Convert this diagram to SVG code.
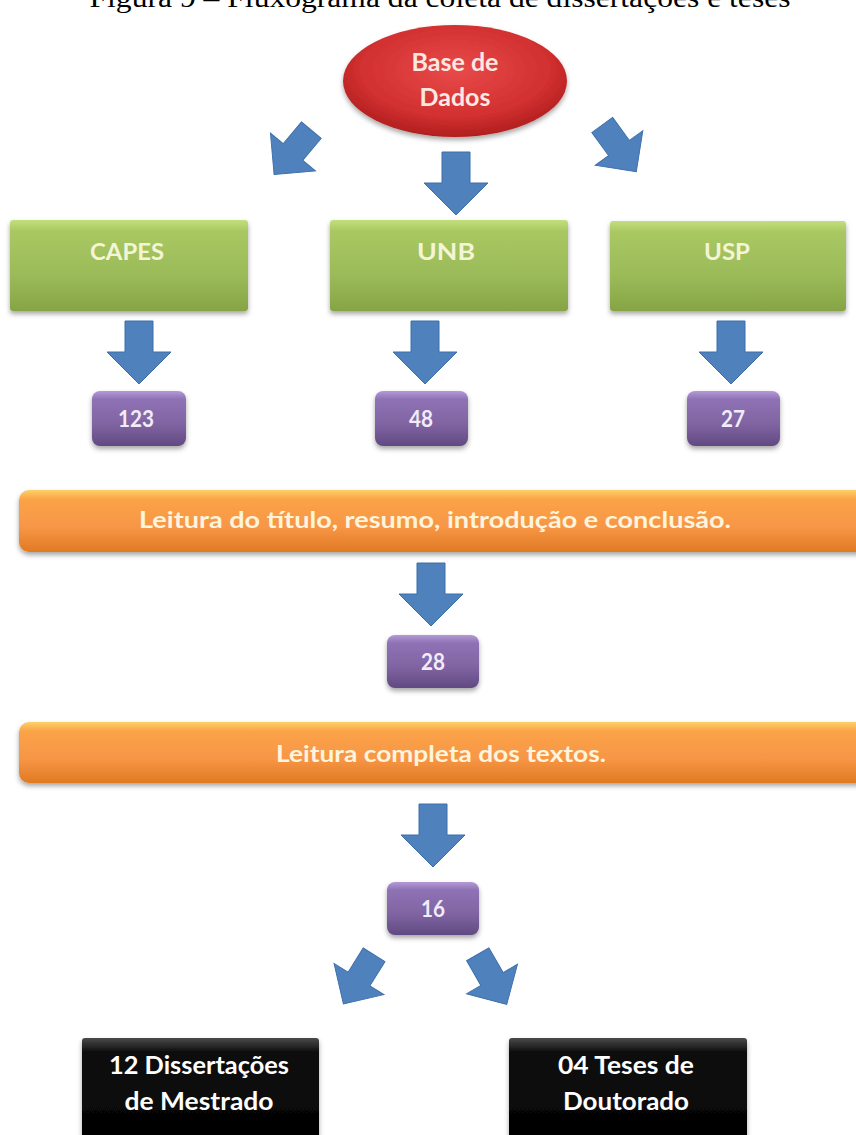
<svg xmlns="http://www.w3.org/2000/svg" xmlns:xlink="http://www.w3.org/1999/xlink" width="856" height="1135" viewBox="0 0 856 1135">
<style>
.t{font-family:Lato,"Open Sans","Liberation Sans",sans-serif;font-weight:bold;text-anchor:middle}
.title{font-family:"Liberation Serif","Times New Roman",serif;font-size:27px;fill:#000;text-anchor:middle}
.arr{fill:#4f81bd;stroke:#3d6ea8;stroke-width:1}
.gt{fill:#f3f5d6;font-size:23px}
.pt{fill:#f1ecf9;font-size:22px}
.ot{fill:#fff4dc;font-size:22px}
.bt{fill:#ffffff;font-size:24px}
.et{fill:#fde9e2;font-size:25px}
</style>
<defs>
<linearGradient id="gGreen" x1="0" y1="0" x2="0" y2="1">
<stop offset="0" stop-color="#c4df7e"/><stop offset="0.12" stop-color="#a9c862"/><stop offset="0.6" stop-color="#9bbb59"/><stop offset="1" stop-color="#86a444"/>
</linearGradient>
<linearGradient id="gPurple" x1="0" y1="0" x2="0" y2="1">
<stop offset="0" stop-color="#b39ad6"/><stop offset="0.15" stop-color="#8f72b5"/><stop offset="0.6" stop-color="#8064a2"/><stop offset="1" stop-color="#614a82"/>
</linearGradient>
<linearGradient id="gOrange" x1="0" y1="0" x2="0" y2="1">
<stop offset="0" stop-color="#fdd06a"/><stop offset="0.15" stop-color="#fba347"/><stop offset="0.6" stop-color="#f79646"/><stop offset="1" stop-color="#e07a22"/>
</linearGradient>
<linearGradient id="gBlack" x1="0" y1="0" x2="0" y2="1">
<stop offset="0" stop-color="#4a4a4a"/><stop offset="0.12" stop-color="#111"/><stop offset="1" stop-color="#000"/>
</linearGradient>
<radialGradient id="gRed" cx="0.5" cy="0.4" r="0.6">
<stop offset="0" stop-color="#e84a4a"/><stop offset="0.7" stop-color="#d23030"/><stop offset="1" stop-color="#b01e1e"/>
</radialGradient>
<filter id="sh" x="-10%" y="-10%" width="120%" height="140%">
<feDropShadow dx="0" dy="3" stdDeviation="2.5" flood-color="#000" flood-opacity="0.35"/>
</filter>
<path id="dn" class="arr" d="M -14,-31 H 14 V 0 H 32 L 0,32 L -32,0 H -14 Z"/>
</defs>
<rect width="856" height="1135" fill="#ffffff"/>
<text class="title" x="440" y="7" textLength="701" lengthAdjust="spacingAndGlyphs">Figura 9 – Fluxograma da coleta de dissertações e teses</text>

<g id="connectors">
<use xlink:href="#dn" transform="translate(293,152) rotate(40) scale(0.92)"/>
<use xlink:href="#dn" transform="translate(456,183)"/>
<use xlink:href="#dn" transform="translate(619,148) rotate(-36) scale(0.92)"/>
<use xlink:href="#dn" transform="translate(139,352)"/>
<use xlink:href="#dn" transform="translate(425,352)"/>
<use xlink:href="#dn" transform="translate(731,352)"/>
<use xlink:href="#dn" transform="translate(431,594)"/>
<use xlink:href="#dn" transform="translate(433,835)"/>
<use xlink:href="#dn" transform="translate(359,979) rotate(32) scale(0.92)"/>
<use xlink:href="#dn" transform="translate(492,979) rotate(-30) scale(0.92)"/>
</g>

<g id="base">
<ellipse cx="455" cy="81" rx="112" ry="56" fill="url(#gRed)" filter="url(#sh)"/>
<text class="t et" x="455" y="71">Base de</text>
<text class="t et" x="455" y="106">Dados</text>
</g>

<g id="capes">
<rect x="10" y="220" width="238" height="91" rx="3" fill="url(#gGreen)" filter="url(#sh)"/>
<text class="t gt" x="127" y="260" textLength="74" lengthAdjust="spacingAndGlyphs">CAPES</text>
</g>
<g id="unb">
<rect x="330" y="220" width="238" height="91" rx="3" fill="url(#gGreen)" filter="url(#sh)"/>
<text class="t gt" x="446" y="260" textLength="58" lengthAdjust="spacingAndGlyphs">UNB</text>
</g>
<g id="usp">
<rect x="610" y="221" width="236" height="90" rx="3" fill="url(#gGreen)" filter="url(#sh)"/>
<text class="t gt" x="727" y="260" textLength="46" lengthAdjust="spacingAndGlyphs">USP</text>
</g>

<g id="n123">
<rect x="92" y="391" width="94" height="55" rx="8" fill="url(#gPurple)" filter="url(#sh)"/>
<text class="t pt" x="136" y="427" textLength="36" lengthAdjust="spacingAndGlyphs">123</text>
</g>
<g id="n48">
<rect x="375" y="391" width="93" height="55" rx="8" fill="url(#gPurple)" filter="url(#sh)"/>
<text class="t pt" x="421" y="427" textLength="24" lengthAdjust="spacingAndGlyphs">48</text>
</g>
<g id="n27">
<rect x="687" y="391" width="93" height="55" rx="8" fill="url(#gPurple)" filter="url(#sh)"/>
<text class="t pt" x="733" y="427" textLength="24" lengthAdjust="spacingAndGlyphs">27</text>
</g>

<g id="leitura1">
<rect x="19" y="490" width="860" height="62" rx="10" fill="url(#gOrange)" filter="url(#sh)"/>
<text class="t ot" x="435" y="528" textLength="592" lengthAdjust="spacingAndGlyphs">Leitura do título, resumo, introdução e conclusão.</text>
</g>

<g id="n28">
<rect x="387" y="635" width="92" height="53" rx="8" fill="url(#gPurple)" filter="url(#sh)"/>
<text class="t pt" x="433" y="670" textLength="24" lengthAdjust="spacingAndGlyphs">28</text>
</g>

<g id="leitura2">
<rect x="19" y="722" width="860" height="61" rx="10" fill="url(#gOrange)" filter="url(#sh)"/>
<text class="t ot" x="441" y="762" textLength="330" lengthAdjust="spacingAndGlyphs">Leitura completa dos textos.</text>
</g>

<g id="n16">
<rect x="387" y="882" width="92" height="53" rx="8" fill="url(#gPurple)" filter="url(#sh)"/>
<text class="t pt" x="433" y="917" textLength="24" lengthAdjust="spacingAndGlyphs">16</text>
</g>

<g id="mestrado">
<rect x="82" y="1038" width="237" height="110" rx="3" fill="url(#gBlack)" filter="url(#sh)"/>
<text class="t bt" x="199" y="1074" textLength="180" lengthAdjust="spacingAndGlyphs">12 Dissertações</text>
<text class="t bt" x="199" y="1110" textLength="149" lengthAdjust="spacingAndGlyphs">de Mestrado</text>
</g>
<g id="doutorado">
<rect x="509" y="1038" width="238" height="110" rx="3" fill="url(#gBlack)" filter="url(#sh)"/>
<text class="t bt" x="626" y="1074" textLength="136" lengthAdjust="spacingAndGlyphs">04 Teses de</text>
<text class="t bt" x="626" y="1110" textLength="126" lengthAdjust="spacingAndGlyphs">Doutorado</text>
</g>
</svg>
